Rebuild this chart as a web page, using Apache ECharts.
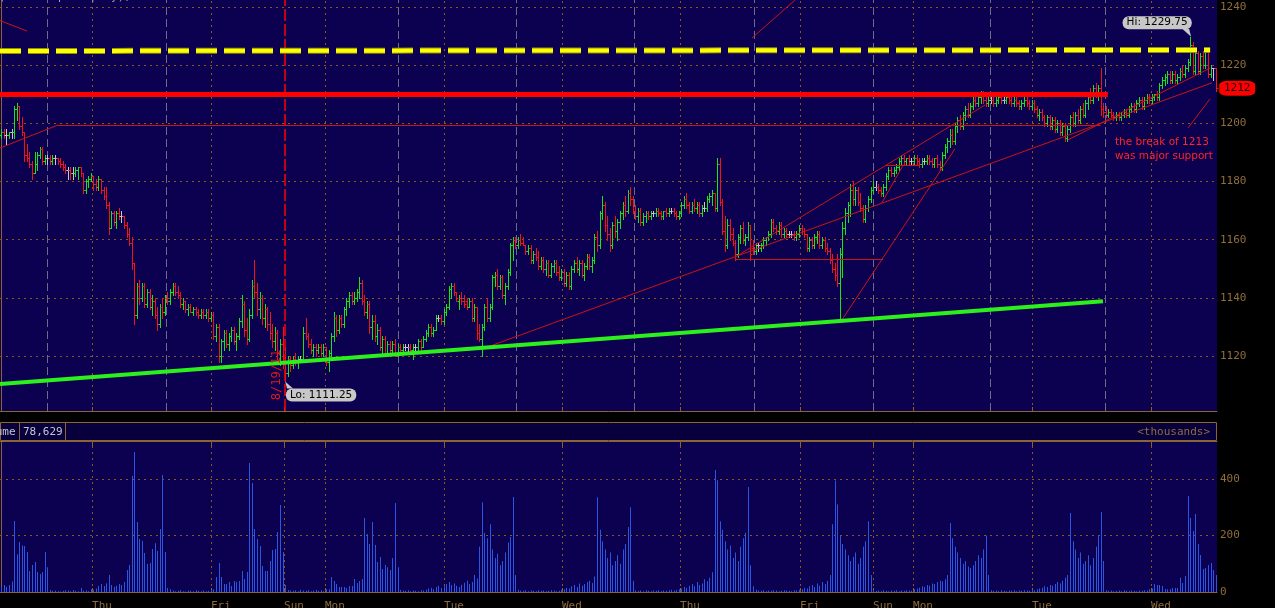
<!DOCTYPE html>
<html><head><meta charset="utf-8">
<script src="https://cdn.jsdelivr.net/npm/echarts@6/dist/echarts.min.js"></script>
<style>html,body{margin:0;padding:0;background:#000;overflow:hidden}#c{width:1275px;height:608px}</style>
</head><body><div id="c"></div>
<script>
// ---------- DATA ----------
// 30-minute OHLC bars: [open, high, low, close]
const ohlc = [
[1196,1198,1195,1197],[1197,1198,1195,1196],[1196,1198,1193,1196],[1196,1197,1195,1197],[1197,1198,1195,1197],[1197,1206,1195,1205],[1205,1207,1201,1206],[1206,1206,1198,1199],
[1199,1202,1196,1197],[1197,1197,1187,1189],[1189,1193,1187,1188],[1188,1190,1185,1186],[1186,1187,1181,1183],[1183,1190,1183,1186],[1186,1190,1184,1189],[1189,1192,1188,1191],
[1191,1192,1186,1187],[1187,1189,1186,1188],[1188,1189,1186,1188],[1188,1189,1186,1187],[1187,1189,1186,1188],[1188,1189,1186,1188],[1188,1188,1186,1187],[1187,1188,1185,1186],
[1186,1187,1184,1185],[1185,1186,1183,1184],[1184,1185,1181,1184],[1184,1185,1181,1183],[1183,1185,1181,1183],[1183,1185,1182,1184],[1184,1185,1181,1185],[1185,1185,1182,1183],
[1183,1183,1176,1177],[1177,1181,1176,1180],[1180,1182,1178,1181],[1181,1183,1180,1182],[1182,1182,1177,1179],[1179,1181,1177,1178],[1178,1182,1177,1181],[1181,1181,1176,1177],
[1177,1178,1174,1175],[1175,1178,1171,1172],[1172,1173,1162,1164],[1164,1170,1164,1169],[1169,1170,1165,1166],[1166,1170,1164,1169],[1169,1171,1167,1168],[1168,1170,1166,1168],
[1168,1168,1164,1165],[1165,1166,1161,1162],[1162,1164,1158,1159],[1159,1161,1150,1152],[1152,1152,1131,1134],[1134,1145,1133,1144],[1144,1146,1138,1140],[1140,1145,1139,1144],
[1144,1145,1137,1138],[1138,1143,1137,1142],[1142,1143,1136,1137],[1137,1141,1134,1139],[1139,1140,1133,1134],[1134,1137,1129,1131],[1131,1138,1130,1137],[1137,1140,1133,1135],
[1135,1141,1134,1140],[1140,1142,1138,1139],[1139,1143,1138,1142],[1142,1145,1141,1144],[1144,1145,1141,1142],[1142,1144,1140,1141],[1141,1142,1137,1138],[1138,1140,1136,1139],
[1139,1139,1135,1136],[1136,1138,1134,1137],[1137,1138,1135,1135],[1135,1137,1134,1136],[1136,1137,1134,1135],[1135,1136,1133,1134],[1134,1136,1133,1135],[1135,1136,1133,1134],
[1134,1136,1133,1135],[1135,1136,1132,1133],[1133,1135,1132,1134],[1134,1135,1126,1127],[1127,1131,1125,1130],[1130,1131,1118,1120],[1120,1126,1118,1125],[1125,1129,1122,1128],
[1128,1129,1123,1124],[1124,1128,1122,1127],[1127,1130,1125,1129],[1129,1130,1124,1125],[1125,1128,1122,1127],[1127,1133,1126,1132],[1132,1141,1130,1138],[1138,1139,1127,1129],
[1129,1133,1124,1126],[1126,1136,1125,1134],[1134,1146,1133,1144],[1144,1153,1140,1142],[1142,1145,1134,1136],[1136,1142,1133,1140],[1140,1141,1131,1133],[1133,1138,1130,1136],
[1136,1137,1129,1131],[1131,1135,1126,1128],[1128,1131,1123,1125],[1125,1130,1122,1128],[1128,1129,1119,1121],[1121,1126,1117,1124],[1124,1130,1116,1118],[1118,1123,1111.25,1114],
[1114,1120,1113,1119],[1119,1120,1115,1117],[1117,1120,1116,1119],[1119,1121,1117,1118],[1118,1120,1116,1119],[1119,1120,1118,1119],[1119,1130,1118,1128],[1128,1133,1126,1127],
[1127,1128,1123,1124],[1124,1126,1121,1122],[1122,1124,1120,1123],[1123,1124,1120,1122],[1122,1124,1121,1123],[1123,1124,1120,1121],[1121,1124,1120,1123],[1123,1123,1117,1118],
[1118,1122,1115,1121],[1121,1128,1120,1127],[1127,1135,1125,1133],[1133,1134,1127,1129],[1129,1134,1128,1133],[1133,1134,1130,1131],[1131,1137,1130,1136],[1136,1140,1134,1139],
[1139,1142,1137,1141],[1141,1142,1138,1139],[1139,1142,1138,1140],[1140,1143,1139,1142],[1142,1147,1140,1145],[1145,1146,1138,1139],[1139,1141,1134,1135],[1135,1139,1133,1138],
[1138,1139,1128,1130],[1130,1134,1126,1132],[1132,1134,1125,1127],[1127,1131,1124,1129],[1129,1130,1122,1123],[1123,1127,1121,1126],[1126,1127,1120,1121],[1121,1125,1120,1124],
[1124,1125,1121,1122],[1122,1125,1121,1124],[1124,1126,1120,1121],[1121,1124,1120,1123],[1123,1124,1121,1122],[1122,1124,1121,1123],[1123,1124,1122,1123],[1123,1124,1121,1123],
[1123,1124,1121,1122],[1122,1124,1119,1123],[1123,1124,1122,1123],[1123,1126,1122,1125],[1125,1126,1122,1123],[1123,1127,1123,1126],[1126,1129,1125,1128],[1128,1131,1127,1130],
[1130,1131,1127,1128],[1128,1130,1127,1129],[1129,1134,1129,1133],[1133,1134,1132,1133],[1133,1134,1131,1132],[1132,1136,1131,1135],[1135,1138,1134,1137],[1137,1144,1136,1143],
[1143,1145,1140,1144],[1144,1145,1141,1142],[1142,1142,1139,1140],[1139,1141,1136,1140],[1140,1142,1138,1139],[1139,1141,1137,1138],[1139,1140,1136,1137],[1137,1140,1137,1139],
[1139,1140,1132,1133],[1133,1138,1132,1137],[1137,1137,1126,1128],[1128,1131,1125,1126],[1126,1131,1120,1130],[1130,1138,1129,1137],[1137,1140,1132,1133],[1133,1138,1132,1137],
[1137,1148,1136,1147],[1147,1149,1144,1148],[1148,1150,1143,1144],[1144,1148,1143,1147],[1147,1148,1140,1141],[1141,1145,1138,1144],[1144,1150,1143,1149],[1149,1159,1148,1158],
[1158,1161,1153,1160],[1160,1161,1157,1158],[1158,1161,1157,1160],[1160,1162,1158,1159],[1159,1161,1158,1158],[1158,1158,1155,1156],[1156,1158,1155,1157],[1157,1158,1152,1153],
[1153,1156,1152,1155],[1155,1157,1153,1154],[1154,1156,1150,1151],[1151,1154,1150,1153],[1153,1154,1149,1150],[1150,1153,1148,1152],[1152,1153,1147,1148],[1148,1152,1147,1151],
[1151,1153,1149,1152],[1152,1153,1148,1149],[1149,1151,1146,1147],[1147,1150,1146,1149],[1149,1150,1144,1145],[1145,1149,1144,1148],[1148,1149,1143,1144],[1144,1151,1143,1150],
[1150,1153,1149,1152],[1152,1154,1149,1150],[1150,1153,1148,1152],[1152,1153,1147,1148],[1148,1152,1146,1151],[1151,1155,1150,1154],[1154,1155,1150,1151],[1151,1154,1149,1153],
[1153,1162,1152,1161],[1161,1163,1156,1158],[1158,1170,1157,1169],[1169,1175,1167,1172],[1172,1173,1163,1165],[1165,1168,1160,1162],[1162,1164,1156,1158],[1158,1166,1157,1165],
[1165,1168,1161,1163],[1163,1167,1160,1166],[1166,1170,1164,1169],[1169,1173,1167,1172],[1172,1175,1168,1170],[1170,1177,1169,1176],[1176,1178,1172,1174],[1174,1175,1169,1170],
[1170,1172,1167,1168],[1168,1171,1166,1170],[1170,1171,1165,1166],[1166,1169,1165,1168],[1168,1170,1166,1169],[1169,1170,1167,1168],[1168,1170,1167,1169],[1169,1170,1168,1169],
[1169,1171,1168,1170],[1170,1171,1168,1169],[1169,1170,1167,1168],[1168,1170,1167,1170],[1170,1171,1168,1169],[1169,1171,1168,1170],[1170,1171,1169,1170],[1170,1171,1168,1169],
[1169,1170,1167,1168],[1168,1170,1167,1169],[1169,1173,1168,1172],[1172,1175,1171,1174],[1174,1176,1171,1172],[1172,1173,1169,1170],[1170,1173,1169,1172],[1172,1174,1170,1171],
[1171,1173,1169,1172],[1172,1173,1168,1169],[1169,1172,1168,1171],[1171,1173,1170,1171],[1171,1175,1170,1174],[1174,1176,1173,1175],[1175,1177,1172,1176],[1176,1176,1170,1171],
[1171,1188,1170,1186],[1186,1188,1172,1173],[1173,1174,1162,1163],[1163,1168,1156,1158],[1158,1167,1157,1165],[1165,1167,1160,1162],[1162,1164,1158,1159],[1159,1160,1153,1155],
[1155,1162,1154,1161],[1161,1165,1159,1164],[1164,1166,1159,1160],[1160,1162,1158,1161],[1161,1166,1160,1165],[1165,1165,1153,1155],[1157,1160,1155,1156],[1156,1159,1155,1158],
[1158,1159,1156,1158],[1157,1159,1156,1158],[1158,1161,1157,1160],[1160,1161,1158,1161],[1161,1163,1160,1162],[1162,1167,1161,1166],[1166,1167,1163,1164],[1164,1165,1162,1163],
[1163,1166,1162,1165],[1165,1166,1161,1162],[1162,1164,1161,1163],[1163,1164,1161,1162],[1162,1163,1161,1162],[1162,1163,1161,1162],[1162,1163,1160,1161],[1161,1163,1160,1162],
[1162,1165,1161,1164],[1164,1165,1162,1163],[1163,1164,1161,1162],[1162,1162,1156,1157],[1157,1161,1156,1160],[1160,1161,1157,1158],[1158,1162,1157,1161],[1161,1163,1159,1162],
[1162,1163,1157,1158],[1158,1161,1157,1160],[1160,1161,1156,1157],[1157,1159,1155,1156],[1156,1157,1152,1153],[1153,1155,1149,1150],[1150,1152,1146,1148],[1148,1155,1144,1145],
[1145,1157,1132,1155],[1155,1166,1147,1164],[1164,1171,1162,1169],[1169,1173,1166,1172],[1172,1179,1168,1177],[1177,1180,1172,1174],[1174,1178,1172,1177],[1177,1178,1172,1173],
[1173,1176,1170,1171],[1171,1172,1166,1167],[1167,1172,1166,1171],[1171,1175,1170,1174],[1174,1178,1173,1177],[1177,1180,1176,1178],[1178,1180,1177,1178],[1178,1179,1176,1177],
[1177,1178,1175,1176],[1176,1179,1175,1178],[1178,1183,1177,1182],[1182,1185,1181,1184],[1184,1185,1182,1183],[1183,1185,1182,1184],[1184,1186,1183,1185],[1185,1188,1184,1187],
[1187,1189,1186,1188],[1188,1189,1186,1187],[1187,1188,1186,1188],[1188,1189,1186,1187],[1187,1188,1186,1187],[1187,1189,1186,1188],[1188,1189,1186,1187],[1187,1188,1185,1186],
[1186,1188,1185,1187],[1187,1188,1186,1187],[1187,1189,1186,1188],[1188,1189,1186,1187],[1187,1188,1185,1186],[1186,1188,1185,1188],[1188,1189,1185,1186],[1186,1187,1184,1185],
[1185,1190,1184,1189],[1189,1193,1188,1192],[1192,1195,1190,1194],[1194,1198,1192,1196],[1196,1198,1193,1194],[1194,1200,1193,1199],[1199,1202,1197,1201],[1201,1203,1198,1199],
[1199,1204,1198,1203],[1203,1206,1201,1205],[1205,1207,1202,1203],[1203,1207,1202,1206],[1206,1209,1205,1208],[1208,1210,1206,1207],[1207,1210,1206,1209],[1209,1211,1207,1210],
[1210,1211,1207,1208],[1208,1209,1206,1207],[1207,1209,1206,1208],[1208,1209,1207,1208],[1208,1209,1206,1207],[1207,1209,1206,1208],[1208,1210,1207,1209],[1209,1210,1207,1208],
[1208,1209,1207,1208],[1208,1210,1207,1209],[1209,1210,1207,1208],[1208,1209,1206,1207],[1207,1209,1206,1208],[1208,1209,1206,1207],[1207,1208,1205,1206],[1206,1208,1205,1207],
[1207,1209,1206,1208],[1208,1209,1206,1207],[1207,1208,1205,1206],[1206,1208,1205,1207],[1207,1208,1204,1205],[1205,1206,1202,1203],[1203,1205,1201,1204],[1204,1205,1201,1202],
[1202,1203,1199,1200],[1200,1203,1199,1202],[1202,1203,1198,1199],[1199,1202,1198,1201],[1201,1202,1197,1198],[1198,1201,1197,1200],[1200,1201,1196,1197],[1197,1200,1196,1199],
[1199,1200,1194,1195],[1195,1199,1194,1198],[1198,1203,1197,1202],[1202,1204,1199,1200],[1200,1204,1199,1203],[1203,1205,1200,1201],[1201,1206,1200,1205],[1205,1207,1202,1203],
[1203,1208,1202,1207],[1207,1210,1205,1209],[1209,1212,1207,1208],[1208,1213,1207,1212],[1212,1214,1209,1210],[1210,1213,1208,1212],[1212,1219,1203,1205],[1205,1207,1202,1204],
[1204,1206,1202,1203],[1203,1205,1202,1204],[1204,1205,1202,1203],[1203,1204,1201,1202],[1202,1204,1201,1203],[1203,1204,1201,1202],[1202,1204,1201,1203],[1203,1205,1202,1204],
[1204,1205,1202,1203],[1203,1206,1202,1205],[1205,1207,1204,1206],[1206,1207,1204,1205],[1205,1208,1204,1207],[1207,1209,1206,1208],[1208,1209,1205,1206],[1206,1209,1205,1208],
[1208,1210,1207,1209],[1209,1210,1207,1208],[1208,1210,1207,1209],[1209,1210,1208,1210],[1210,1211,1208,1209],[1209,1214,1208,1213],[1213,1216,1212,1215],[1215,1217,1213,1216],
[1216,1218,1214,1217],[1217,1218,1214,1215],[1215,1218,1214,1217],[1217,1218,1214,1215],[1215,1217,1214,1216],[1216,1219,1215,1218],[1218,1220,1216,1217],[1217,1220,1216,1219],
[1219,1222,1218,1221],[1221,1229.75,1220,1227],[1227,1228,1217,1218],[1218,1225,1217,1224],[1224,1225,1217,1218],[1218,1224,1217,1223],[1223,1225,1219,1220],[1220,1226,1219,1225],
[1225,1226,1216,1217],[1217,1220,1216,1219],[1219,1219,1215,1219],[1219,1219,1211,1212]
];
// volume per bar, thousands
const volume = [
18,25,19,25,37,251,134,177,165,163,142,74,96,106,71,64,71,142,88,
7,4,5,3,2,4,6,5,3,7,4,3,14,4,5,3,
10,8,12,21,28,21,31,60,25,19,22,28,25,35,78,96,
411,496,248,188,181,138,99,103,152,173,145,223,414,142,14,
10,5,3,4,6,3,2,5,4,3,6,4,3,5,3,4,6,
10,53,103,53,28,28,35,21,39,35,39,74,46,71,
457,386,223,188,163,92,74,74,110,149,152,212,308,142,25,7,
5,4,6,3,8,5,4,6,3,5,7,4,6,3,
10,10,53,39,28,18,18,18,14,21,21,46,32,39,46,
262,205,170,248,166,106,124,81,96,88,78,120,315,88,7,
5,4,6,3,5,4,3,6,5,8,12,15,10,18,22,14,
20,28,35,25,30,22,18,26,33,40,28,35,60,48,
160,318,210,190,240,150,120,135,95,110,140,175,195,336,60,
8,5,4,6,3,5,4,3,6,4,5,3,4,6,5,3,4,
8,10,14,12,20,25,18,30,22,28,35,40,32,55,
335,220,180,150,120,140,95,110,130,100,150,170,230,300,40,
6,4,5,3,6,4,3,5,4,6,3,5,4,6,8,5,7,
10,12,18,15,22,28,20,35,25,30,45,38,50,70,
432,396,250,220,180,150,165,120,140,110,160,190,210,372,95,20,
8,5,4,6,3,5,4,6,5,3,4,6,5,4,3,6,5,8,
10,15,12,20,25,18,30,22,35,28,40,60,
240,395,310,200,170,150,130,110,125,140,100,120,160,180,250,60,
6,4,5,3,6,4,3,5,4,6,3,5,4,6,5,4,
10,12,15,20,18,25,22,30,28,35,40,38,45,60,
244,190,160,140,120,100,110,90,85,95,110,130,120,150,200,60,
6,4,5,3,6,4,3,5,4,6,3,5,4,6,5,4,8,6,10,
12,15,20,18,25,22,28,35,30,40,50,60,
280,180,150,120,140,100,110,130,95,120,160,200,283,110,
6,4,5,3,4,5,3,6,4,3,5,4,3,5,4,6,5,
10,12,28,25,25,21,11,10,10,14,14,14,50,32,57,
340,262,216,276,170,131,81,85,96,103,78,60
];
// day boundaries (bar-index positions) and their labels
const dayTickPos    = [35.5, 82.0, 110.6, 126.6, 173.2, 219.3, 265.5, 312.4, 341.0, 356.6, 403.1, 449.7];
const dayTickLabels = ['Thu','Fri','Sun','Mon','Tue','Wed','Thu','Fri','Sun','Mon','Tue','Wed'];
const sessionClosePos = [17.9, 64.4, 155.2, 201.3, 247.5, 294.4, 341.0, 386.7, 431.7];
const weekendMarkPos = 110.7;
const priceTicks  = [1120, 1140, 1160, 1180, 1200, 1220, 1240];
const volumeTicks = [0, 200, 400];
const priceRange  = [1101.1, 1242.37];
const volumeRange = [0, 534.5];
// drawn annotations, in [bar index, price]
const resistanceLine = [[-0.5, 1210], [432.8, 1210]];
const upperDashLine  = [[-0.5, 1224.85], [472.8, 1225.2]];
const supportLine    = [[-0.5, 1110.4], [430.9, 1138.8]];
const thinTrendLines = [
  [[-0.5, 1235.3], [10.1, 1231.7]],
  [[293.6, 1229.3], [310.4, 1242.3]],
  [[-0.5, 1191.5], [22.2, 1199.4]],
  [[22.2, 1199.4], [430, 1199.4]],
  [[188, 1122.4], [473.5, 1213.9]],
  [[287, 1154.0], [384.8, 1206.3]],
  [[287, 1153.4], [344.9, 1153.4]],
  [[328.8, 1132.4], [373, 1191.2]],
  [[344.4, 1172.6], [352.8, 1185.7]],
  [[346, 1185.7], [359.3, 1185.7]],
  [[417.2, 1194.3], [472.8, 1219.0]],
  [[464.2, 1198.4], [472.8, 1208.4]]
];
const noteLines = ['the break of 1213', 'was major support'];
const dateNote = '8/19/11';
const volumeHeader = ['Volume', '78,629', '<thousands>'];

// ---------- STYLE ----------
const N = ohlc.length;
const AXIS = '#8b6534', LABEL = '#8f6d3f', PLOT = '#0c0050';
const UP = '#18e418', DOWN = '#f01414', FLAT = '#c8c8c8', VOL = '#2a56e6';
const DOT = { color: '#8a5818', width: 1, type: [2, 4] };
const DASH = { color: '#6c6c84', width: 1, type: [8, 4] };
const MONO = '"DejaVu Sans Mono", monospace';
const SANS = '"DejaVu Sans", sans-serif';

const hiIdx = ohlc.reduce((b, d, i) => d[1] > ohlc[b][1] ? i : b, 0);
const loIdx = ohlc.reduce((b, d, i) => d[2] < ohlc[b][2] ? i : b, 0);
const hiVal = ohlc[hiIdx][1], loVal = ohlc[loIdx][2];
const lastClose = ohlc[N - 1][3];

function renderBar(params, api) {
  const i = api.value(0), o = api.value(1), h = api.value(2), l = api.value(3), c = api.value(4);
  const pH = api.coord([i, h]), pL = api.coord([i, l]), pO = api.coord([i, o]), pC = api.coord([i, c]);
  const x = Math.round(pH[0]) + 0.5;
  const color = c > o ? UP : (c < o ? DOWN : FLAT);
  const yo = Math.round(pO[1]) + 0.5, yc = Math.round(pC[1]) + 0.5;
  const st = { stroke: color, lineWidth: 1 };
  return { type: 'group', children: [
    { type: 'line', shape: { x1: x, y1: Math.round(pH[1]), x2: x, y2: Math.round(pL[1]) + 1 }, style: st },
    { type: 'line', shape: { x1: x - 2, y1: yo, x2: x, y2: yo }, style: st },
    { type: 'line', shape: { x1: x, y1: yc, x2: x + 2, y2: yc }, style: st }
  ]};
}
function renderVol(params, api) {
  const p = api.coord([api.value(0), api.value(1)]);
  const b = api.coord([api.value(0), 0]);
  return { type: 'rect', shape: { x: Math.round(p[0]), y: p[1], width: 1, height: b[1] - p[1] }, style: { fill: VOL } };
}
const seg = (pair, ls) => [{ coord: pair[0], lineStyle: ls }, { coord: pair[1] }];

const chart = echarts.init(document.getElementById('c'), null, { renderer: 'canvas' });
const axisLabelStyle = { color: LABEL, fontFamily: MONO, fontSize: 11 };
const plain = v => String(v);

chart.setOption({
  backgroundColor: '#000',
  animation: false,
  grid: [
    { left: 0, right: 58, top: 0, height: 411, show: true, backgroundColor: PLOT, borderWidth: 0, outerBoundsMode: 'none', containLabel: false },
    { left: 0, right: 58, top: 441, height: 151, show: true, backgroundColor: PLOT, borderWidth: 0, outerBoundsMode: 'none', containLabel: false }
  ],
  xAxis: [
    { gridIndex: 0, type: 'value', min: -0.5, max: N - 0.5, position: 'bottom',
      axisLine: { show: true, lineStyle: { color: AXIS } },
      axisTick: { show: true, inside: true, length: 4, customValues: dayTickPos, lineStyle: { color: AXIS } },
      axisLabel: { show: false }, splitLine: { show: false } },
    { gridIndex: 1, type: 'value', min: -0.5, max: N - 0.5, position: 'bottom',
      axisLine: { show: true, lineStyle: { color: AXIS } },
      axisTick: { show: true, inside: true, length: 4, customValues: dayTickPos, lineStyle: { color: AXIS } },
      axisLabel: Object.assign({ show: true, customValues: dayTickPos, align: 'left', margin: 9,
        formatter: v => { let k = 0, d = 1e9; dayTickPos.forEach((p, j) => { if (Math.abs(p - v) < d) { d = Math.abs(p - v); k = j; } }); return dayTickLabels[k]; } }, axisLabelStyle),
      splitLine: { show: false } },
    { gridIndex: 1, type: 'value', min: -0.5, max: N - 0.5, position: 'top',
      axisLine: { show: true, lineStyle: { color: AXIS } },
      axisTick: { show: true, inside: true, length: 6, customValues: dayTickPos, lineStyle: { color: AXIS } },
      axisLabel: { show: false }, splitLine: { show: false } }
  ],
  yAxis: [
    { gridIndex: 0, type: 'value', position: 'right', min: priceRange[0], max: priceRange[1],
      axisLine: { show: true, lineStyle: { color: AXIS } },
      axisTick: { show: true, inside: true, length: 5, customValues: priceTicks, lineStyle: { color: AXIS } },
      axisLabel: Object.assign({ show: true, customValues: priceTicks, margin: 3, formatter: plain }, axisLabelStyle),
      splitLine: { show: false } },
    { gridIndex: 1, type: 'value', position: 'right', min: volumeRange[0], max: volumeRange[1],
      axisLine: { show: true, lineStyle: { color: AXIS } },
      axisTick: { show: true, inside: true, length: 5, customValues: volumeTicks, lineStyle: { color: AXIS } },
      axisLabel: Object.assign({ show: true, customValues: volumeTicks, margin: 3, formatter: plain }, axisLabelStyle),
      splitLine: { show: false } }
  ],
  series: [
    { // price-panel grid lines
      type: 'line', xAxisIndex: 0, yAxisIndex: 0, data: [], silent: true,
      markLine: { z: 1, silent: true, symbol: ['none', 'none'], label: { show: false }, animation: false,
        emphasis: { disabled: true },
        data: [
          ...priceTicks.map(v => ({ yAxis: v, lineStyle: DOT })),
          ...dayTickPos.filter((v, k) => dayTickLabels[k] !== 'Sun').map(v => ({ xAxis: v, lineStyle: DOT })),
          ...sessionClosePos.map(v => ({ xAxis: v, lineStyle: DASH }))
        ] } },
    { // volume-panel grid lines
      type: 'line', xAxisIndex: 1, yAxisIndex: 1, data: [], silent: true,
      markLine: { z: 1, silent: true, symbol: ['none', 'none'], label: { show: false }, animation: false,
        emphasis: { disabled: true },
        data: [
          ...volumeTicks.filter(v => v > 0).map(v => ({ yAxis: v, lineStyle: DOT })),
          ...dayTickPos.map(v => ({ xAxis: v, lineStyle: DOT }))
        ] } },
    { type: 'custom', name: 'price', xAxisIndex: 0, yAxisIndex: 0, z: 3, silent: true,
      renderItem: renderBar, encode: { x: 0, y: [1, 2, 3, 4] },
      data: ohlc.map((d, i) => [i, d[0], d[1], d[2], d[3]]) },
    { type: 'custom', name: 'volume', xAxisIndex: 1, yAxisIndex: 1, z: 3, silent: true,
      renderItem: renderVol, encode: { x: 0, y: 1 },
      data: volume.map((v, i) => [i, v]) },
    { // drawn annotations
      type: 'line', xAxisIndex: 0, yAxisIndex: 0, data: [], silent: true, clip: false, z: 5,
      markLine: { z: 6, silent: true, symbol: ['none', 'none'], label: { show: false }, animation: false,
        emphasis: { disabled: true },
        data: [
          { xAxis: weekendMarkPos, lineStyle: { color: '#ff0000', width: 1.5, type: [12, 3] } },
          ...thinTrendLines.map(p => seg(p, { color: '#cc1414', width: 1, type: 'solid' })),
          seg(supportLine, { color: '#2cf01c', width: 4, type: 'solid' }),
          seg(resistanceLine, { color: '#ff0000', width: 5, type: 'solid' }),
          seg(upperDashLine, { color: '#8f8f10', width: 6, type: [21, 7] }),
          seg(upperDashLine, { color: '#ffff00', width: 4, type: [21, 7] })
        ] },
      markPoint: { z: 8, silent: true, animation: false,
        data: [
          { coord: [hiIdx, hiVal], symbol: 'path://M0,0 L7,0 L9,8 Z', symbolSize: [9, 8], symbolOffset: [-3.5, -4],
            itemStyle: { color: '#c8c8c8' }, label: { show: false } },
          { coord: [hiIdx, hiVal], symbol: 'circle', symbolSize: 1, itemStyle: { color: 'rgba(0,0,0,0)' },
            label: { show: true, position: 'inside', offset: [-33, -14], formatter: 'Hi: ' + hiVal,
              color: '#000', fontFamily: SANS, fontSize: 10.5, backgroundColor: '#c8c8c8', borderRadius: 6, padding: [1, 4, 1, 4] } },
          { coord: [loIdx, loVal], symbol: 'path://M0,0 L2,7 L8,7 Z', symbolSize: [8, 7], symbolOffset: [4, 3.5],
            itemStyle: { color: '#c8c8c8' }, label: { show: false } },
          { coord: [loIdx, loVal], symbol: 'circle', symbolSize: 1, itemStyle: { color: 'rgba(0,0,0,0)' },
            label: { show: true, position: 'inside', offset: [36, 13.5], formatter: 'Lo: ' + loVal,
              color: '#000', fontFamily: SANS, fontSize: 10.5, backgroundColor: '#c8c8c8', borderRadius: 6, padding: [1, 4, 1, 4] } },
          { coord: [N - 1, lastClose], symbol: 'roundRect', symbolSize: [36, 15], symbolOffset: [21.5, 0],
            itemStyle: { color: '#ff0000' },
            label: { show: true, position: 'inside', formatter: String(lastClose), color: '#1a0000', fontFamily: MONO, fontSize: 11 } }
        ] } }
  ],
  graphic: [
    { type: 'text', x: 164, y: 3, z: 50, style: { text: '& P 500 E-Mini (CME Group Company), Inc.', fill: '#a8a8b8', font: '11px ' + MONO, align: 'right', textAlign: 'right', verticalAlign: 'bottom', textVerticalAlign: 'bottom' } },
    { type: 'rect', z: 50, shape: { x: 0.5, y: 422.5, width: 1216, height: 18 }, style: { fill: '#07003c', stroke: AXIS, lineWidth: 1 } },
    { type: 'line', z: 51, shape: { x1: 19.5, y1: 422, x2: 19.5, y2: 441 }, style: { stroke: AXIS, lineWidth: 1 } },
    { type: 'line', z: 51, shape: { x1: 65.5, y1: 422, x2: 65.5, y2: 441 }, style: { stroke: AXIS, lineWidth: 1 } },
    { type: 'text', x: 15.5, y: 432, z: 52, style: { text: volumeHeader[0], fill: '#c4c4d0', font: '11px ' + MONO, align: 'right', textAlign: 'right', verticalAlign: 'middle', textVerticalAlign: 'middle' } },
    { type: 'text', x: 23, y: 432, z: 52, style: { text: volumeHeader[1], fill: '#c4c4d0', font: '11px ' + MONO, align: 'left', textAlign: 'left', verticalAlign: 'middle', textVerticalAlign: 'middle' } },
    { type: 'text', x: 1210, y: 432, z: 52, style: { text: volumeHeader[2], fill: LABEL, font: '11px ' + MONO, align: 'right', textAlign: 'right', verticalAlign: 'middle', textVerticalAlign: 'middle' } },
    { type: 'text', x: 1115, y: 142, z: 52, style: { text: noteLines[0], fill: '#ff2626', font: '10.5px ' + SANS, align: 'left', textAlign: 'left', verticalAlign: 'middle', textVerticalAlign: 'middle' } },
    { type: 'text', x: 1115, y: 156.5, z: 52, style: { text: noteLines[1], fill: '#ff2626', font: '10.5px ' + SANS, align: 'left', textAlign: 'left', verticalAlign: 'middle', textVerticalAlign: 'middle' } },
    { type: 'text', x: 277, y: 375, rotation: Math.PI / 2, z: 52, style: { text: dateNote, fill: '#e01818', font: '12px ' + MONO, align: 'center', textAlign: 'center', verticalAlign: 'middle', textVerticalAlign: 'middle' } }
  ]
});
</script>
</body></html>
